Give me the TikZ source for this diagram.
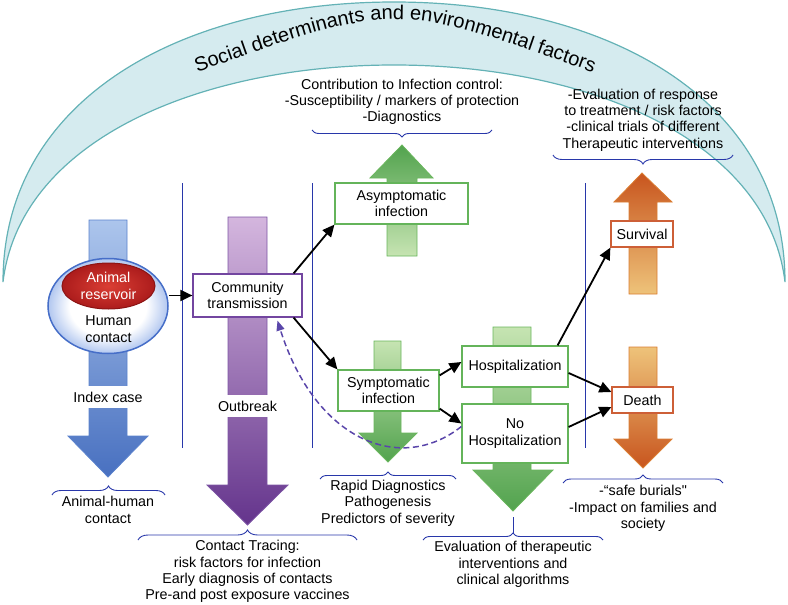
\documentclass[tikz,border=0pt]{standalone}
\usepackage{fontspec}
\setmainfont{Liberation Sans}
\newfontfamily\plainquote{Liberation Sans}
\usetikzlibrary{arrows.meta,shapes.geometric,decorations.pathreplacing,decorations.text,positioning}
\definecolor{bandfill}{RGB}{213,235,239}
\definecolor{bandedge}{RGB}{100,178,182}
\definecolor{sepblue}{RGB}{40,55,170}
\definecolor{idxtop}{RGB}{172,197,236}
\definecolor{idxbot}{RGB}{72,112,192}
\definecolor{idxedge}{RGB}{90,130,205}
\definecolor{obtop}{RGB}{212,182,222}
\definecolor{obbot}{RGB}{100,52,140}
\definecolor{obedge}{RGB}{125,85,165}
\definecolor{grdark}{RGB}{82,163,78}
\definecolor{grlight}{RGB}{198,228,178}
\definecolor{gredge}{RGB}{105,182,92}
\definecolor{ordark}{RGB}{200,85,30}
\definecolor{orlight}{RGB}{238,195,122}
\definecolor{oredge}{RGB}{218,125,50}
\definecolor{ctpurple}{RGB}{115,70,160}
\definecolor{boxgreen}{RGB}{100,180,90}
\definecolor{boxorange}{RGB}{205,95,55}
\definecolor{hcblue}{RGB}{160,186,236}
\definecolor{hcedge}{RGB}{70,110,200}
\definecolor{resred1}{RGB}{218,62,52}
\definecolor{resred2}{RGB}{172,28,28}
\definecolor{resedge}{RGB}{140,20,20}
\definecolor{dashpurple}{RGB}{90,70,170}
\pgfdeclareradialshading{hcshade}{\pgfpoint{0bp}{0bp}}{color(0bp)=(white); color(16bp)=(white); color(27bp)=(hcblue); color(50bp)=(hcblue)}
\begin{document}
\begin{tikzpicture}[x=1pt,y=-1pt,
    every node/.style={font=\fontsize{14.3}{16.3}\selectfont,align=center},
    box/.style={draw,fill=white,line width=1.2pt,inner sep=0pt},
    link/.style={line width=1.8pt,-{Triangle[length=12pt,width=11pt]}},
    dashlink/.style={dashpurple,line width=1.5pt,dash pattern=on 6pt off 3.5pt,-{Triangle[length=10pt,width=8pt]}},
    brc/.style={sepblue,line width=0.9pt,decorate,decoration={brace,amplitude=#1}},
    brc/.default=8,
    sepline/.style={sepblue,line width=0.8pt},
    gap/.style={fill=white,inner sep=1pt,minimum height=22pt}]
                \useasboundingbox (0,0) rectangle (788,605);

                \filldraw[fill=bandfill,draw=bandedge,line width=1.2pt]
                  (3,282) .. controls (3,100) and (180,2) .. (394,2)
                  .. controls (608,2) and (785,100) .. (785,282)
                  .. controls (768,140) and (588,65) .. (394,65)
                  .. controls (200,65) and (20,140) .. (3,282) -- cycle;
                \path[decorate,decoration={text along path,text align=center,
                  text={|\fontsize{20}{24}\selectfont|Social determinants and environmental factors}}]
                  (190,75) .. controls (395,1) .. (600,75);

                \draw[sepline] (182,183) -- (182,448);
                \draw[sepline] (312.5,183) -- (312.5,448);
                \draw[sepline] (585,183) -- (585,448);

                \shade[top color=idxtop,bottom color=idxbot,draw=idxedge,line width=0.8pt]
                  (89,220) -- (127,220) -- (127,436) -- (148,436) -- (108,477) -- (68,436) -- (89,436) -- cycle;
                \shade[top color=obtop,bottom color=obbot,draw=obedge,line width=0.8pt]
                  (228,217) -- (267,217) -- (267,485) -- (288,485) -- (247.5,525) -- (207,485) -- (228,485) -- cycle;
                \shade[top color=grdark,bottom color=grlight,draw=gredge,line width=0.8pt]
                  (387,256) -- (417,256) -- (417,178) -- (433,178) -- (402,145) -- (370,178) -- (387,178) -- cycle;
                \shade[top color=grlight,bottom color=grdark,draw=gredge,line width=0.8pt]
                  (374,341) -- (401,341) -- (401,433) -- (417,433) -- (388,462) -- (359,433) -- (374,433) -- cycle;
                \shade[top color=grlight,bottom color=grdark,draw=gredge,line width=0.8pt]
                  (493,327) -- (531,327) -- (531,470) -- (553,470) -- (513,511) -- (473,470) -- (493,470) -- cycle;
                \shade[top color=ordark,bottom color=orlight,draw=oredge,line width=0.8pt]
                  (629,294) -- (657,294) -- (657,202) -- (672,202) -- (642,173) -- (614,202) -- (629,202) -- cycle;
                \shade[top color=orlight,bottom color=ordark,draw=oredge,line width=0.8pt]
                  (629,347) -- (657,347) -- (657,439) -- (672,439) -- (643,468) -- (614,439) -- (629,439) -- cycle;

                \path (108,397) node[gap] (IC) {Index case};
                \path (247.5,406) node[gap] (OB) {Outbreak};

                \path (108,306) node[ellipse,minimum width=120,minimum height=95,shading=hcshade,draw=hcedge,line width=1.5pt] (E) {};
                \path (108.5,286) node[ellipse,minimum width=93,minimum height=46,inner sep=0pt,inner color=resred1,outer color=resred2,draw=resedge,line width=1pt,text=white] (R) {Animal\\reservoir};
                \path node[below=3pt of R] (HC) {Human\\contact};

                \path (247.5,295.5) node[box,draw=ctpurple,minimum width=109,minimum height=43] (CT) {Community\\transmission};
                \path (401.5,203.5) node[box,draw=boxgreen,minimum width=133,minimum height=41] (AI) {Asymptomatic\\infection};
                \path (388.5,390.5) node[box,draw=boxgreen,minimum width=101,minimum height=41] (SI) {Symptomatic\\infection};
                \path (515,366.5) node[box,draw=boxgreen,minimum width=106,minimum height=41] (H) {Hospitalization};
                \path (515,433.5) node[box,draw=boxgreen,minimum width=106,minimum height=59] (NH) {No\\Hospitalization};
                \path (642,234) node[box,draw=boxorange,minimum width=62,minimum height=26] (S) {Survival};
                \path (642.5,400) node[box,draw=boxorange,minimum width=61,minimum height=26] (D) {Death};

                \draw[link] (E.east |- CT.west) -- (CT.west);
                \draw[link] ([xshift=-9pt]CT.north east) -- (AI.south west);
                \draw[link] ([xshift=-9pt]CT.south east) -- (SI.north west);
                \draw[link] ([yshift=-6pt]SI.north east) -- ([yshift=4.5pt]H.west);
                \draw[link] ([yshift=3pt]SI.south east) -- ([yshift=10pt]NH.west);
                \draw[link] ([xshift=-11pt]H.north east) -- (S.south west);
                \draw[link] ([yshift=-6.5pt]H.east) -- ([yshift=8pt]D.west);
                \draw[link] ([yshift=6.5pt]NH.east) -- ([yshift=-7pt]D.west);
                \draw[dashlink] ([yshift=7pt]NH.west) .. controls (400,475) and (315,440) .. ([xshift=30pt,yshift=-3pt]CT.south);

                \path (402,102) node (TC) {Contribution to Infection control:\\-Susceptibility / markers of protection\\-Diagnostics};
                \path (643,120) node (TR) {-Evaluation of response\\to treatment / risk factors\\-clinical trials of different\\Therapeutic interventions};
                \path (108,510) node (TA) {Animal-human\\contact};
                \path (247.5,571.5) node (TT) {Contact Tracing:\\risk factors for infection\\Early diagnosis of contacts\\Pre-and post exposure vaccines};
                \path (388,503) node (TD) {Rapid Diagnostics\\Pathogenesis\\Predictors of severity};
                \path (513,564.5) node (TE) {Evaluation of therapeutic\\interventions and\\clinical algorithms};
                \path (643,508.5) node (TB) {-“safe burials{\plainquote"}\\-Impact on families and\\society};

                \begin{scope}
                  \draw[brc=7] (492,130) -- (312,130);
                  \draw[brc=9] (733,155) -- (553,155);
                  \draw[brc=9] (52,495) -- (165,495);
                  \draw[brc=10] (138,540) -- (357,540);
                  \draw[brc=7] (320,479) -- (456,479);
                  \draw[brc=7] (423,540) -- (603,540);
                  \draw[brc=8] (563,483) -- (723,483);
                  \draw[sepline] (513,517) -- (513,533);
                \end{scope}
              \end{tikzpicture}
\end{document}
